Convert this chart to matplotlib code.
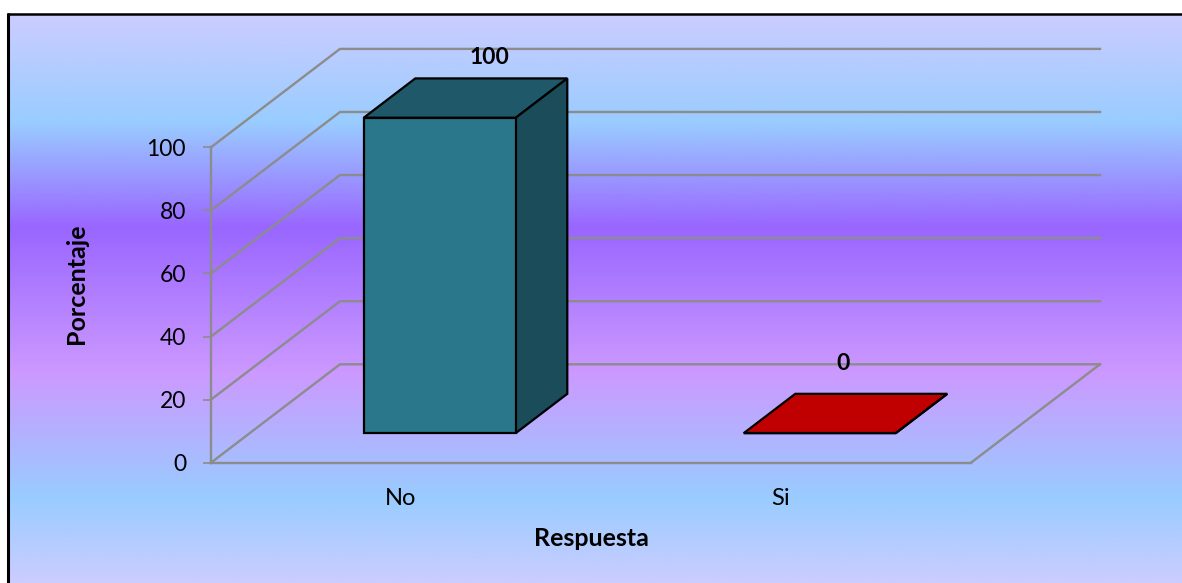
import numpy as np
import matplotlib
matplotlib.use("Agg")
import matplotlib.pyplot as plt
from matplotlib.colors import LinearSegmentedColormap
from matplotlib.patches import Polygon

# data
categories = ["No", "Si"]
values = [100, 0]
y_ticks = [0, 20, 40, 60, 80, 100]
front_colors = ["#2A778C", "#C00000"]
top_colors = ["#1F5868", "#C00000"]
side_colors = ["#1B4C5A", "#C00000"]

W, H = 1182, 583
plt.rcParams["font.family"] = ["Lato", "DejaVu Sans"]

fig = plt.figure(figsize=(W / 100, H / 100), dpi=100, facecolor="white")

# -------------------------------------------------
# Gradient background + border
# -------------------------------------------------
bg = fig.add_axes([0, 0, 1, 1], zorder=0)
stops = [(0.0, "#CCCCFF"), (0.19, "#99CCFF"), (0.375, "#9966FF"),
         (0.63, "#CC99FF"), (0.85, "#99CCFF"), (1.0, "#CCCCFF")]
cmap = LinearSegmentedColormap.from_list("bg", stops, N=512)
grad = np.linspace(0, 1, 512).reshape(-1, 1)
bg.imshow(grad, cmap=cmap, extent=[8, W, H, 14], aspect="auto", zorder=0)
bg.set_xlim(0, W)
bg.set_ylim(H, 0)
bg.axis("off")
bg.plot([8, 8], [H, 13], color="black", lw=2.2, solid_capstyle="butt", zorder=2)
bg.plot([7, W], [14, 14], color="black", lw=1.8, solid_capstyle="butt", zorder=2)

# -------------------------------------------------
# Chart axes = front plane of the 3D box
# -------------------------------------------------
left, right, bottom, top = 211, 971, 462.7, 147.3
ax = fig.add_axes([left / W, 1 - bottom / H, (right - left) / W, (bottom - top) / H], zorder=1)
ax.patch.set_visible(False)
ax.set_xlim(0, 2)
ax.set_ylim(0, 100)

x_unit = (right - left) / 2
y_unit = (bottom - top) / 100
depth_x = 129 / x_unit
depth_y = 98.4 / y_unit


def proj(x, y, d):
    return x + d * depth_x, y + d * depth_y


grid_c = "#8C8C8C"
for t in y_ticks:
    xs, ys = zip(proj(0, t, 0), proj(0, t, 1), proj(2, t, 1))
    ax.plot(xs, ys, color=grid_c, lw=1.7, clip_on=False, zorder=1)
xs, ys = zip(proj(2, 0, 0), proj(2, 0, 1))
ax.plot(xs, ys, color=grid_c, lw=1.7, clip_on=False, zorder=1)

# -------------------------------------------------
# Bars
# -------------------------------------------------
bar_w = 0.4
d0, d1 = 0.30, 0.70
label_offsets = [(-1, 15), (-20, 22)]  # points, away from back edge of the bar top
for i, v in enumerate(values):
    x0 = i + 0.5 - bar_w / 2
    x1 = x0 + bar_w
    faces = [
        ([proj(x0, v, d0), proj(x1, v, d0), proj(x1, v, d1), proj(x0, v, d1)], top_colors[i]),
        ([proj(x1, 0, d0), proj(x1, 0, d1), proj(x1, v, d1), proj(x1, v, d0)], side_colors[i]),
        ([proj(x0, 0, d0), proj(x1, 0, d0), proj(x1, v, d0), proj(x0, v, d0)], front_colors[i]),
    ]
    for pts, c in faces:
        ax.add_patch(Polygon(pts, closed=True, facecolor=c, edgecolor="black", lw=1.6,
                             joinstyle="miter", clip_on=False, zorder=3))
    ax.annotate(str(v), proj(i + 0.5, v, d1), xytext=label_offsets[i], textcoords="offset points",
                ha="center", va="center", fontsize=16.5, fontweight="bold",
                color="black", annotation_clip=False, zorder=4)

# -------------------------------------------------
# Axes decoration
# -------------------------------------------------
for s in ax.spines.values():
    s.set_visible(False)
for name in ["left", "bottom"]:
    ax.spines[name].set_visible(True)
    ax.spines[name].set_color(grid_c)
    ax.spines[name].set_linewidth(1.7)
ax.set_yticks(y_ticks)
ax.set_xticks([0.5, 1.5])
ax.set_xticklabels(categories)
ax.tick_params(axis="y", length=6, width=1.2, color=grid_c, labelsize=16.5, pad=12)
ax.tick_params(axis="x", length=0, labelsize=17, pad=18.5)
ax.set_xlabel("Respuesta", fontsize=18, fontweight="bold", labelpad=13)
ax.set_ylabel("Porcentaje", fontsize=18, fontweight="bold", y=0.567, labelpad=42)

fig.savefig("out.png", dpi=100, facecolor="white")
